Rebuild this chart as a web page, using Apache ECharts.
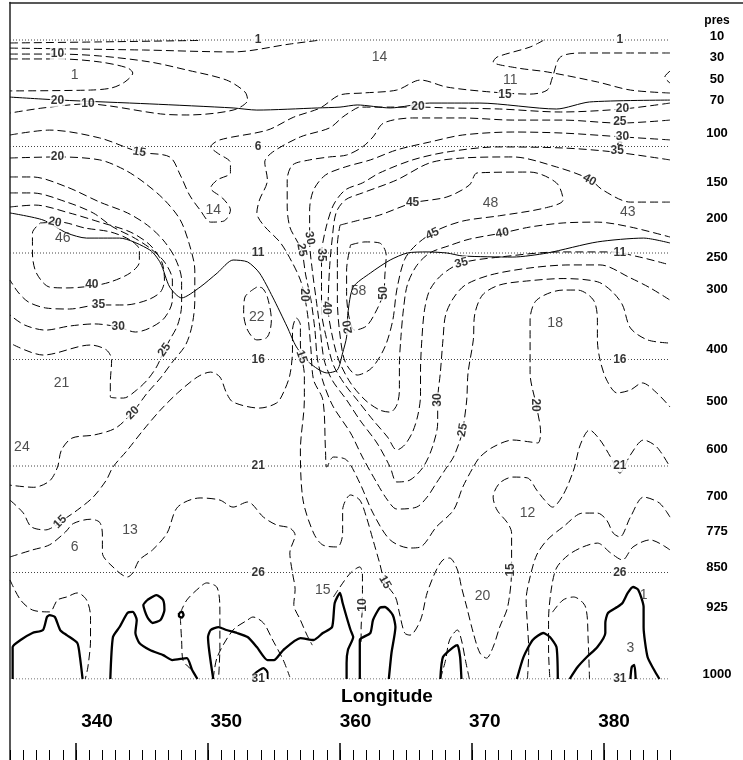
<!DOCTYPE html>
<html><head><meta charset="utf-8">
<script src="https://cdn.jsdelivr.net/npm/echarts@6/dist/echarts.min.js"></script>
<style>html,body{margin:0;padding:0;background:#fff}#c{width:743px;height:760px}</style>
</head><body><div id="c"></div>
<script>
// ================= DATA (longitude, model level) =================
const lonTicks = [340, 350, 360, 370, 380];
const presLabels = ['10','30','50','70','100','150','200','250','300','400','500','600','700','775','850','925','1000'];
const presLevelPos = [0.81,1.82,2.83,3.84,5.37,7.67,9.4,11.19,12.69,15.51,17.95,20.2,22.41,24.05,25.74,27.62,30.77];
const levelLines = [1,6,11,16,21,26,31];
const levelLabelLons = [353.8, 381.2];

// dashed contours
const dTop1 = [[335,1.14],[341.8,1.09],[349.4,1.02]];
const dTop2 = [[335,1.38],[345.1,1.47],[351.9,1.56],[356.2,1.19],[358.3,1.02]];
const dTen1 = [[335,1.66],[338.6,1.66],[341.8,1.75],[345.6,2.03],[348.4,2.41],[351.4,2.88],[352.8,3.44],[353.0,3.82],[351.9,4.29],[348.4,4.52],[346.4,4.47],[342.6,4.10],[340.9,4.00],[337.5,4.19],[335,4.43]];
const dFive = [[335,1.89],[338.8,1.89],[341.8,2.03],[343.9,2.31],[344.3,2.55],[343.7,2.97],[342.7,3.25],[341.1,3.35],[335,3.39]];
const dTen2 = [[375.4,1.02],[374.4,1.33],[371.9,1.80],[371.6,2.03],[373.4,2.31],[375.7,2.50],[379.5,2.97],[382.0,3.35],[385,3.49]];
const dHook = [[385,2.46],[384.6,2.74],[385,3.02]];
const dFifteenTop = [[335,5.46],[338.0,5.23],[341.8,5.60],[344.8,6.26],[347.1,6.49],[347.9,7.34],[348.6,8.28],[349.4,8.98],[350.2,9.55],[351.2,9.50],[351.7,8.98],[351.1,8.42],[350.2,7.95],[350.7,7.57],[351.7,7.24],[351.7,6.77],[350.7,6.30],[350.2,6.02],[350.9,5.69],[354.5,5.23],[356.5,4.62],[358.5,4.19],[360.0,3.58],[361.7,3.49],[364.3,3.35],[366.1,2.88],[368.1,3.21],[371.4,3.44],[374.4,3.54],[375.7,3.35],[376.1,2.74],[376.7,1.80],[378.4,1.61],[382.0,1.61],[385,1.61]];
const dJet20 = [[385,3.96],[381.4,4.24],[376.7,4.38],[372.1,4.24],[368.3,4.19],[365.9,4.15],[363.8,4.15],[361.5,4.15],[361.0,4.29],[360.2,4.62],[359.2,5.13],[357.0,5.55],[354.9,6.26],[354.3,6.73],[354.5,7.57],[353.9,8.51],[353.7,9.12],[354.2,9.69],[355.5,10.53],[356.4,11.47],[357.0,12.27],[357.3,12.97],[357.6,14.15],[357.8,15.55],[358.0,16.96],[358.7,17.90],[358.9,20.25],[359.0,21.05],[359.5,20.58],[360.5,20.72],[361.5,21.80],[362.5,23.21],[363.8,24.47],[365.3,24.85],[366.1,24.80],[367.3,23.86],[368.6,23.07],[369.3,21.99],[370.1,21.05],[370.6,20.58],[371.6,20.11],[373.1,19.78],[374.4,19.87],[375.0,19.92],[375.2,19.45],[374.9,18.23],[374.4,16.63],[374.4,15.08],[374.4,14.15],[374.9,13.21],[376.9,12.74],[378.0,12.74],[379.2,13.21],[379.5,14.15],[379.5,15.08],[379.7,16.02],[380.2,16.96],[381.0,17.57],[382.0,17.43],[382.9,17.10],[384.0,17.57],[385,18.23]];
const dJet25 = [[385,4.76],[381.2,4.90],[376.9,4.76],[373.1,4.76],[369.3,4.66],[365.5,4.66],[363.3,4.90],[362.5,5.55],[361.7,6.02],[360.5,6.40],[359.2,6.49],[357.7,6.63],[356.4,6.87],[356.0,7.57],[356.0,8.84],[356.2,9.78],[356.7,10.39],[357.1,10.86],[357.4,12.03],[357.8,13.21],[358.1,14.62],[358.3,16.02],[358.8,17.20],[359.5,18.23],[360.8,19.45],[361.7,20.58],[362.8,21.80],[363.6,22.60],[364.3,23.02],[365.8,22.93],[366.6,22.46],[367.3,21.80],[368.1,21.05],[368.6,20.58],[369.1,19.78],[369.3,19.31],[369.6,17.90],[369.7,16.63],[370.1,15.08],[370.2,13.91],[370.8,12.97],[372.1,12.5],[374.4,12.3],[376.9,12.2],[379.5,12.35],[380.6,12.8],[381.4,13.44],[382.0,14.52],[383.3,15.08],[385,15.23]];
const dJet30 = [[385,5.69],[381.4,5.55],[376.9,5.37],[373.1,5.32],[369.3,5.46],[366.8,5.79],[364.3,6.16],[362.3,6.63],[360.4,6.96],[358.9,7.34],[358.0,8.04],[357.7,8.98],[357.7,10.48],[357.9,11.80],[358.2,13.21],[358.5,14.62],[358.8,16.02],[359.4,16.96],[360.5,17.90],[361.5,18.84],[362.8,19.92],[363.8,21.05],[364.3,21.75],[365.3,21.66],[366.3,21.05],[367.0,20.11],[367.4,18.98],[367.4,17.90],[367.6,16.63],[367.8,15.08],[368.0,13.91],[368.6,13.11],[369.5,12.50],[371.4,12.03],[374.4,11.70],[377.4,11.56],[379.7,11.56],[382.0,12.17],[383.5,12.64],[385,13.21]];
const dJet35 = [[385,6.63],[380.8,6.26],[376.9,6.07],[371.9,6.02],[368.1,6.26],[365.5,6.63],[363.0,7.24],[361.7,7.71],[360.4,8.04],[359.5,8.75],[358.9,9.92],[358.6,11.09],[358.6,12.27],[358.6,13.68],[359.0,15.08],[359.5,16.26],[360.4,17.20],[361.3,17.90],[362.5,18.84],[363.6,19.64],[364.3,20.25],[364.9,20.01],[365.5,19.40],[365.9,18.61],[366.1,17.67],[366.1,16.49],[366.2,15.08],[366.4,13.68],[366.8,12.74],[367.7,12.03],[369.2,11.47],[372.1,11.19],[376.7,10.95],[380.5,10.95],[382.7,11.19],[385,11.56]];
const dJet40 = [[385,8.61],[382.0,8.61],[379.9,8.04],[378.9,7.53],[376.4,6.96],[373.1,6.49],[369.3,6.54],[366.8,6.77],[364.3,7.57],[361.7,8.18],[360.4,8.51],[359.7,9.12],[359.4,10.39],[359.2,11.80],[359.1,13.58],[359.4,14.85],[359.9,16.02],[360.8,17.10],[361.9,17.90],[363.0,18.37],[363.8,18.47],[364.3,18.14],[364.5,17.43],[364.5,16.26],[364.6,15.08],[364.8,13.68],[365.1,12.50],[365.8,11.6],[366.8,11.0],[368.3,10.65],[369.8,10.35],[372.3,10.06],[374.4,9.78],[376.9,9.59],[379.5,9.55],[382.0,9.78],[385,10.25]];
const dJet45 = [[360.0,9.69],[361.5,9.45],[363.0,9.22],[365.5,8.65],[368.1,8.37],[369.8,7.81],[370.4,7.24],[374.4,7.20],[376.4,7.71],[376.9,8.51],[375.5,8.89],[372.1,9.25],[369.3,9.50],[367.3,9.95],[365.8,10.6],[364.9,11.3],[364.3,12.74],[364.0,14.15],[363.4,15.41],[362.4,16.40],[361.3,16.73],[360.4,16.12],[360.0,14.85],[359.8,13.21],[359.8,11.80],[359.8,10.62],[360.0,9.69]];
const dJet50 = [[360.8,10.62],[361.9,10.48],[363.0,10.53],[363.5,11.09],[363.4,12.03],[363.3,12.88],[362.7,13.77],[362.0,14.43],[361.1,14.62],[360.7,14.05],[360.5,12.97],[360.5,11.80],[360.8,10.62]];
const dLeft40 = [[337.3,9.59],[338.8,9.55],[340.7,9.83],[342.6,10.01],[344.1,10.39],[344.8,10.86],[344.8,11.42],[344.1,11.94],[342.6,12.36],[341.2,12.55],[339.3,12.64],[338.0,12.60],[337.0,11.94],[336.7,11.00],[336.7,10.06],[337.3,9.59]];
const dLeft35 = [[335,8.84],[336.9,8.75],[339.5,9.12],[341.8,9.55],[344.1,10.01],[345.6,10.62],[346.5,11.42],[346.7,12.27],[346.4,12.83],[345.4,13.21],[343.7,13.44],[341.7,13.44],[339.5,13.63],[337.7,13.58],[336.4,13.30],[335.6,12.83],[335,12.27]];
const dLeft30 = [[335,8.18],[336.7,8.18],[339.3,8.61],[341.3,9.12],[342.8,9.78],[344.3,10.25],[345.6,10.77],[346.7,11.42],[347.3,12.27],[347.3,13.21],[346.7,14.05],[345.6,14.52],[344.5,14.71],[343.2,14.47],[341.4,14.33],[339.5,14.43],[337.7,14.62],[336.1,14.38],[335,13.91]];
const dLeft25 = [[335,7.43],[336.7,7.43],[339.3,7.90],[341.8,8.61],[343.9,9.12],[345.4,9.69],[346.6,10.39],[347.5,11.23],[348.0,12.27],[348.0,13.44],[347.7,14.38],[347.1,15.08],[346.7,15.55],[346.1,16.35],[345.4,16.96],[344.6,17.43],[343.6,17.81],[342.6,17.76],[342.6,17.10],[342.7,16.02],[342.3,15.55],[341.1,15.32],[337.5,15.79],[335,15.23]];
const dLeft20 = [[335,6.54],[338.6,6.49],[341.8,6.63],[343.7,7.10],[345.2,7.71],[346.7,8.51],[347.9,9.45],[348.6,10.62],[349.0,11.80],[349.0,13.21],[348.8,14.38],[348.3,15.32],[347.3,16.12],[346.4,16.87],[345.4,17.57],[344.3,18.47],[343.0,19.22],[341.4,19.54],[339.7,19.69],[338.9,20.25],[338.6,21.05],[338.0,21.7],[336.8,22.0],[335,21.9]];
const dLong15 = [[335,22.6],[336.0,23.2],[336.6,23.85],[337.7,24.0],[338.4,23.82],[338.8,23.63],[340.1,23.07],[341.3,22.46],[342.3,21.66],[342.8,21.05],[343.9,20.25],[345.1,19.31],[346.4,18.37],[347.7,17.57],[349.2,16.82],[350.2,16.59],[350.9,16.82],[351.4,17.57],[351.9,18.00],[353.9,18.28],[355.2,18.04],[355.7,17.57],[356.2,16.73],[356.4,15.55],[356.4,14.62],[356.7,14.05],[357.0,14.38],[357.0,15.32],[357.1,15.88],[357.3,16.73],[357.3,17.90],[357.0,20.25],[357.2,22.60],[358.0,24.15],[358.7,24.71],[359.8,24.80],[360.2,24.15],[360.2,23.07],[360.8,22.36],[361.5,22.60],[362.0,23.40],[362.5,24.47],[363.0,25.55],[363.4,26.45],[364.2,27.15],[364.5,27.90],[364.9,28.84],[365.3,28.94],[366.1,28.23],[366.6,26.96],[367.3,25.88],[367.8,25.41],[368.3,25.32],[368.9,25.88],[369.2,26.68],[369.6,27.62],[370.1,28.84],[370.6,29.78],[371.1,30.02],[371.6,29.50],[372.1,28.56],[372.7,27.62],[373.0,25.88],[373.0,24.15],[372.7,23.68],[371.9,23.07],[371.6,22.46],[372.1,21.80],[373.1,21.52],[374.2,21.56],[374.9,22.13],[375.5,22.60],[376.1,22.93],[376.9,22.36],[377.7,21.19],[378.2,20.01],[378.9,19.31],[379.7,19.78],[380.5,20.58],[381.2,21.33],[382.0,20.48],[383.0,19.78],[384.0,20.11],[385,21.05]];
const dLoop22 = [[353.7,12.60],[352.8,13.07],[352.7,13.82],[353.0,14.62],[353.7,15.08],[354.5,14.94],[354.8,14.15],[354.5,13.07],[354.1,12.64],[353.7,12.60]];
const dTen3 = [[335,25.27],[336.7,24.94],[338.0,24.7],[339.2,24.1],[339.8,23.7],[341.1,23.5],[341.8,23.65],[342.0,24.24],[342.0,25.08],[342.8,25.74],[343.9,26.21],[344.3,26.02],[344.8,25.41],[345.8,24.94],[346.9,24.15],[347.7,22.93],[349.4,22.50],[350.9,22.60],[351.9,22.93],[353.0,22.69],[354.2,23.40],[355.2,23.77],[356.2,23.91],[356.6,24.24],[356.2,25.08],[356.4,26.02],[356.6,26.8],[356.5,27.5],[357.0,28.23],[357.5,28.94],[357.9,29.41]];
const dTen4 = [[335,26.35],[335.8,27.29],[336.7,27.76],[338.0,27.85],[338.6,27.29],[339.3,27.15],[340.1,26.96],[340.8,27.29],[341.1,28.09],[341.1,29.17],[340.9,30.44],[340.7,31]];
const dBot1 = [[347.9,28.09],[348.0,29.17],[348.1,30.11],[348.8,30.58]];
const dBot2 = [[347.9,27.90],[348.4,27.29],[349.4,26.68],[349.9,26.49],[350.7,26.72],[350.9,27.90],[350.9,29.50],[350.8,31]];
const dBot3 = [[350.4,31],[350.7,29.97],[351.9,28.70],[353.0,28.23],[353.4,28.09],[354.2,28.37],[354.9,29.17],[355.7,30.11],[356.2,30.91]];
const dBot10 = [[359.5,27.15],[360.0,26.68],[360.8,26.02],[361.5,25.74],[361.7,26.12],[361.7,26.96],[361.7,27.62],[361.6,28.56],[361.6,29.41]];
const dBotG = [[367.6,31],[368.0,30.11],[368.3,29.17],[368.9,28.70],[369.2,29.17],[369.5,30.11],[369.8,31]];
const dRightA = [[385,23.40],[384.2,22.74],[383.0,22.46],[382.0,23.40],[381.2,24.33],[380.7,24.15],[380.2,23.54],[379.5,23.21],[378.4,23.21],[376.9,23.86],[375.7,24.47],[374.9,25.18],[374.4,26.21],[374.1,27.29],[374.2,28.47],[374.3,29.64],[374.2,31]];
const dRightB = [[385,24.94],[383.5,24.47],[382.2,24.80],[381.4,25.41],[380.5,25.08],[379.5,24.62],[378.4,24.80],[377.3,25.18],[376.4,25.79],[376.0,26.82],[375.8,28.23],[375.8,29.64],[375.9,31]];
const dRightD = [[376.1,27.86],[376.9,27.29],[377.7,27.15],[378.6,27.62],[378.8,29.17],[378.9,31]];

// thin solid lines
const sTrop1 = [[335,3.68],[338.8,3.82],[345.6,4.00],[351.9,4.19],[353.7,4.29],[358.3,4.19],[360.0,4.15],[361.3,4.05],[363.8,4.19],[366.8,3.96],[370.6,3.96],[376.4,4.24],[378.9,3.91],[385,3.82]];
const sTrop2 = [[335,9.12],[337.5,9.45],[339.3,10.06],[340.8,10.30],[343.3,10.30],[345.6,10.86],[346.4,11.47],[347.1,12.60],[348.0,13.11],[349.4,12.60],[350.7,11.94],[351.9,11.33],[353.0,11.42],[353.9,11.94],[354.9,13.07],[356.0,14.47],[356.7,15.41],[357.7,16.16],[359.0,16.63],[359.8,16.49],[360.2,15.69],[360.5,14.94],[360.6,13.82],[361.0,12.60],[362.3,11.94],[363.8,11.33],[365.1,11.00],[366.6,10.95],[368.1,11.00],[369.3,11.14],[373.1,11.19],[375.7,11.00],[379.5,10.48],[383.0,10.30],[385,10.53]];

// thick solid lines (lower levels)
const tA = [[335.2,31],[335.2,29.50],[335.8,29.17],[336.7,28.84],[337.5,28.70],[337.8,28.09],[338.0,28.00],[338.4,28.09],[338.8,28.70],[339.3,28.94],[340.1,29.31],[340.3,29.97],[340.5,31]];
const tB = [[342.6,31],[342.8,29.03],[343.3,28.56],[343.9,27.90],[344.3,27.85],[344.6,28.23],[344.5,28.84],[344.8,29.31],[345.6,29.64],[346.6,29.88],[347.3,30.11],[348.4,30.02],[348.8,30.58],[349.2,31]];
const tC = [[345.4,27.29],[346.1,27.06],[346.6,27.29],[346.7,27.76],[346.4,28.23],[345.8,28.37],[345.4,28.09],[345.1,27.53],[345.4,27.29]];
const tO = [[347.8,27.9],[348.05,27.85],[348.15,28.0],[348.0,28.12],[347.8,28.05],[347.8,27.9]];
const tD = [[350.4,31],[350.0,29.03],[350.2,28.70],[350.8,28.56],[351.4,28.70],[352.2,28.84],[353.0,29.03],[353.7,29.50],[354.5,30.11],[355.0,30.11],[355.7,29.64],[357.0,29.08],[358.0,29.17],[358.7,28.84],[359.4,28.56],[359.6,27.43],[360.0,26.96],[360.2,27.43],[360.5,28.09],[360.8,28.70],[361.0,29.03],[360.6,29.64],[360.5,30.25],[360.5,31]];
const tE = [[353.4,31],[353.6,30.72],[354.2,30.49],[354.5,30.68],[354.5,31]];
const tF = [[361.5,31],[361.5,29.17],[362.3,28.84],[362.5,28.23],[363.0,27.67],[363.4,27.62],[364.0,28.00],[364.2,28.56],[363.9,29.78],[363.7,31]];
const tG = [[367.6,31],[367.8,29.97],[368.6,29.50],[368.9,29.41],[369.1,29.97],[369.2,31]];
const tH = [[373.4,31],[373.9,29.97],[374.6,29.17],[375.4,28.84],[375.9,29.03],[376.4,29.50],[376.5,31]];
const tI = [[377.4,31],[378.0,30.44],[378.7,29.97],[379.5,29.50],[380.1,28.84],[380.1,28.37],[380.3,27.90],[381.0,27.62],[381.4,27.43],[381.8,26.96],[382.2,26.68],[382.6,26.82],[383.0,27.62],[383.0,28.56],[383.3,29.97],[383.8,30.58],[384.2,31]];
const tJ = [[382.0,31],[382.1,30.44],[382.3,30.34],[382.4,31]];

// contour value labels
const contourLabelText = ['10','10','20','15','20','20','40','35','30','25','20','15','30','25','35','20','40','15','20','50','45','45','40','35','40','20','15','20','25','30','35','30','25','20','15','15','10'];
const contourLabelPos = [[338.6,1.66],[340.9,4.0],[338.6,3.86],[344.8,6.26],[338.6,6.49],[338.4,9.55],[341.2,12.50],[341.7,13.44],[343.2,14.47],[346.7,15.55],[344.3,18.51],[338.8,23.63],[357.7,10.3],[357.1,10.86],[358.6,11.09],[357.3,12.97],[359.0,13.58],[357.1,15.88],[360.6,14.47],[363.3,12.88],[365.5,8.65],[367.0,10.1],[372.3,10.06],[369.2,11.47],[378.9,7.57],[365.9,4.15],[372.5,3.55],[381.4,4.24],[381.2,4.85],[381.4,5.55],[381.0,6.21],[367.4,17.90],[369.3,19.31],[374.8,18.14],[363.4,26.45],[372.9,25.88],[361.7,27.53]];

// extreme values
const extremaText = ['14','11','1','14','48','43','46','58','22','18','21','24','13','6','12','15','20','1','3'];
const extremaPos = [[363.0,1.80],[372.9,2.88],[339.9,2.64],[350.4,8.98],[371.4,8.65],[381.8,9.08],[339.0,10.30],[361.4,12.78],[353.7,14.0],[376.3,14.29],[338.9,17.10],[335.9,20.11],[344.1,24.0],[339.9,24.8],[374.2,23.21],[358.7,26.82],[370.8,27.1],[383.0,27.06],[382.0,29.55]];

// ================= STYLE / BUILD =================
const FONT = "'Liberation Sans', Arial, Helvetica, sans-serif";
const contourLabelRotate = [0,0,0,-10,0,-10,0,0,0,55,45,45,-80,-80,-90,-90,-90,-70,100,90,0,25,10,15,-30,0,0,0,0,0,0,90,80,-90,-60,90,90];
const dashedSet = [dTop1,dTop2,dTen1,dFive,dTen2,dHook,dFifteenTop,dJet20,dJet25,dJet30,dJet35,dJet40,dJet45,dJet50,dLeft40,dLeft35,dLeft30,dLeft25,dLeft20,dLong15,dLoop22,dTen3,dTen4,dBot1,dBot2,dBot3,dBot10,dBotG,dRightA,dRightB,dRightD];
const thinSet = [sTrop1, sTrop2];
const thickSet = [tA,tB,tC,tO,tD,tE,tF,tG,tH,tI,tJ];

const dashedStyle = {color:'#000', width:1, type:[8,4]};
const thinStyle = {color:'#000', width:1, type:'solid'};
const thickStyle = {color:'#000', width:2.3, type:'solid'};
const dottedStyle = {color:'#444', width:1, type:[1,2]};
const clear = {color:'rgba(0,0,0,0)'};

function ls(data, style, smooth) {
  return {type:'line', xAxisIndex:0, yAxisIndex:0, data:data, symbol:'none', showSymbol:false,
    smooth: smooth, lineStyle: style, silent:true, animation:false, z:2};
}
const series = [];
levelLines.forEach(l => series.push(ls([[335,l],[385,l]], dottedStyle, false)));
dashedSet.forEach(d => series.push(ls(d, dashedStyle, 0.3)));
thinSet.forEach(d => series.push(ls(d, thinStyle, 0.25)));
thickSet.forEach(d => series.push(ls(d, thickStyle, 0.2)));

// level line labels
const lvData = [];
levelLines.forEach(l => levelLabelLons.forEach(lo => lvData.push({name:String(l), value:[lo,l]})));
series.push({type:'scatter', data:lvData, symbolSize:2, itemStyle:clear, silent:true, animation:false, z:9,
  label:{show:true, position:'inside', formatter:'{b}', fontFamily:FONT, fontWeight:'bold', fontSize:12, color:'#000', backgroundColor:'#fff', padding:[0,2]}});
// contour labels
series.push({type:'scatter', data: contourLabelPos.map((p,i)=>({name:contourLabelText[i], value:p, label:{rotate:contourLabelRotate[i]}})),
  symbolSize:2, itemStyle:clear, silent:true, animation:false, z:10,
  label:{show:true, position:'inside', formatter:'{b}', fontFamily:FONT, fontWeight:'bold', fontSize:12, color:'#000', backgroundColor:'#fff', padding:[0,1]}});
// extrema
series.push({type:'scatter', data: extremaPos.map((p,i)=>({name:extremaText[i], value:p})),
  symbolSize:2, itemStyle:clear, silent:true, animation:false, z:10,
  label:{show:true, position:'inside', formatter:'{b}', fontFamily:FONT, fontWeight:'normal', fontSize:14, color:'#222'}});

function presFmt(v) {
  let best = -1, bd = 1e9;
  presLevelPos.forEach((p,i) => { const d = Math.abs(p - v); if (d < bd) { bd = d; best = i; } });
  return bd < 0.01 ? presLabels[best] : '';
}
const hidden = {show:false};
const option = {
  animation:false,
  textStyle:{fontFamily:FONT},
  title:[
    {text:'Longitude', left:387, top:687, textAlign:'center', padding:0, textStyle:{fontFamily:FONT, fontWeight:'bold', fontSize:19, color:'#000'}},
    {text:'pres', left:717, top:15, textAlign:'center', padding:0, textStyle:{fontFamily:FONT, fontWeight:'bold', fontSize:12, color:'#000'}}
  ],
  grid:[
    {left:10, top:18.7, width:660, height:660.3},
    {left:10, top:740, width:660, height:20},
    {left:10, top:740, width:660, height:20},
    {left:10, top:690, width:660, height:16},
    {left:10, top:2.5, right:0, bottom:0}
  ],
  xAxis:[
    {gridIndex:0, type:'value', min:335, max:385, show:false},
    {gridIndex:1, type:'value', min:335, max:385, interval:1, position:'bottom',
      axisLine:{show:false, onZero:false}, axisTick:{show:true, inside:true, length:10, lineStyle:{color:'#000', width:1}},
      axisLabel:hidden, splitLine:hidden},
    {gridIndex:2, type:'value', min:335, max:385, position:'bottom',
      axisLine:{show:false, onZero:false}, axisTick:{show:true, inside:true, length:17, customValues:lonTicks, lineStyle:{color:'#000', width:1.5}},
      axisLabel:hidden, splitLine:hidden},
    {gridIndex:3, type:'value', min:333.27, max:384.33, position:'bottom',
      axisLine:{show:false, onZero:false}, axisTick:hidden, splitLine:hidden,
      axisLabel:{show:true, customValues:lonTicks, margin:6, fontFamily:FONT, fontWeight:'bold', fontSize:19, color:'#000'}},
    {gridIndex:4, type:'value', min:0, max:1, position:'top',
      axisLine:{show:true, onZero:false, lineStyle:{color:'#222', width:1.5}}, axisTick:hidden, axisLabel:hidden, splitLine:hidden}
  ],
  yAxis:[
    {gridIndex:0, type:'value', min:0, max:31, inverse:true, position:'right',
      axisLine:{show:false, onZero:false}, axisTick:hidden, splitLine:hidden,
      axisLabel:{show:true, customValues:presLevelPos, formatter:presFmt, align:'center', margin:47,
        fontFamily:FONT, fontWeight:'bold', fontSize:13, color:'#000'}},
    {gridIndex:1, type:'value', min:0, max:1, show:false},
    {gridIndex:2, type:'value', min:0, max:1, show:false},
    {gridIndex:3, type:'value', min:0, max:1, show:false},
    {gridIndex:4, type:'value', min:0, max:1, position:'left',
      axisLine:{show:true, onZero:false, lineStyle:{color:'#222', width:1.5}}, axisTick:hidden, axisLabel:hidden, splitLine:hidden}
  ],
  series: series
};
const chart = echarts.init(document.getElementById('c'), null, {renderer:'canvas', width:743, height:760});
chart.setOption(option);
</script>
</body></html>
